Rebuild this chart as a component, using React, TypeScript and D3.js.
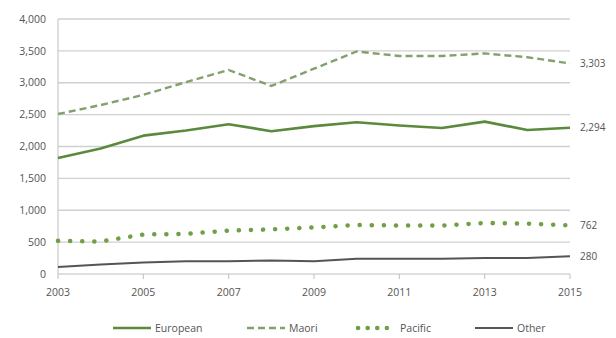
import React from 'react';
import * as d3 from 'd3';

const years = [2003, 2004, 2005, 2006, 2007, 2008, 2009, 2010, 2011, 2012, 2013, 2014, 2015];
const european = [1820, 1970, 2170, 2250, 2350, 2240, 2320, 2380, 2330, 2290, 2390, 2260, 2294];
const maori = [2510, 2650, 2810, 3010, 3200, 2950, 3220, 3490, 3420, 3420, 3460, 3400, 3303];
const pacific = [520, 510, 620, 630, 680, 700, 730, 770, 760, 760, 800, 790, 762];
const other = [110, 150, 180, 200, 200, 210, 200, 240, 240, 240, 250, 250, 280];
const yTicks = [0, 500, 1000, 1500, 2000, 2500, 3000, 3500, 4000];
const xTicks = [2003, 2005, 2007, 2009, 2011, 2013, 2015];

const seriesList = [
  { name: 'European', values: european, color: '#5b8a3c', dash: '', width: 2.6, cap: 'butt' },
  { name: 'Maori', values: maori, color: '#84a06c', dash: '7,4', width: 2.4, cap: 'butt' },
  { name: 'Pacific', values: pacific, color: '#6fa045', dash: '0.1,12', width: 4.5, cap: 'round' },
  { name: 'Other', values: other, color: '#555555', dash: '', width: 2, cap: 'butt' },
];

const legendX = [113, 247, 358, 475];

export default function App() {
  const x = d3.scaleLinear().domain([2003, 2015]).range([58, 570]);
  const y = d3.scaleLinear().domain([0, 4000]).range([274, 19]);
  const line = d3.line<number>().x((_, i) => x(years[i])).y(d => y(d));
  const fmt = d3.format(',');
  const font = 'Open Sans, sans-serif';

  return (
    <svg width={616} height={338} style={{ position: 'absolute', left: 0, top: 0, background: '#fff' }}
      fontFamily={font}>
      {yTicks.map(t => (
        <g key={t}>
          {t > 0 && <line x1={58} x2={570} y1={y(t)} y2={y(t)} stroke="#d0d0d0" strokeWidth={1.3} />}
          <text x={46} y={y(t)} dy="0.35em" textAnchor="end" fontSize={10.5} fill="#555">{fmt(t)}</text>
        </g>
      ))}
      <line x1={58} x2={58} y1={y(4000)} y2={y(0)} stroke="#bfbfbf" />
      <line x1={58} x2={570} y1={y(0)} y2={y(0)} stroke="#bfbfbf" />
      {xTicks.map(t => (
        <g key={t}>
          <line x1={x(t)} x2={x(t)} y1={y(0)} y2={y(0) + 5} stroke="#bfbfbf" />
          <text x={x(t)} y={296} textAnchor="middle" fontSize={10.5} fill="#555">{t}</text>
        </g>
      ))}
      {seriesList.map(s => (
        <path key={s.name} d={line(s.values) || ''} fill="none" stroke={s.color}
          strokeWidth={s.width} strokeDasharray={s.dash || undefined} strokeLinecap={s.cap as any}
          strokeLinejoin="round" />
      ))}
      {seriesList.map(s => (
        <text key={s.name} x={580} y={y(s.values[s.values.length - 1])} dy="0.35em" fontSize={10} fill="#555">
          {fmt(s.values[s.values.length - 1])}
        </text>
      ))}
      {seriesList.map((s, i) => (
        <g key={s.name} transform={`translate(${legendX[i]},328)`}>
          <line x1={0} x2={38} y1={0} y2={0} stroke={s.color} strokeWidth={s.width}
            strokeDasharray={s.dash === '0.1,12' ? '0.1,9.5' : s.dash || undefined} strokeLinecap={s.cap as any} />
          <text x={42} y={0} dy="0.35em" fontSize={10.5} fill="#555">{s.name}</text>
        </g>
      ))}
    </svg>
  );
}
